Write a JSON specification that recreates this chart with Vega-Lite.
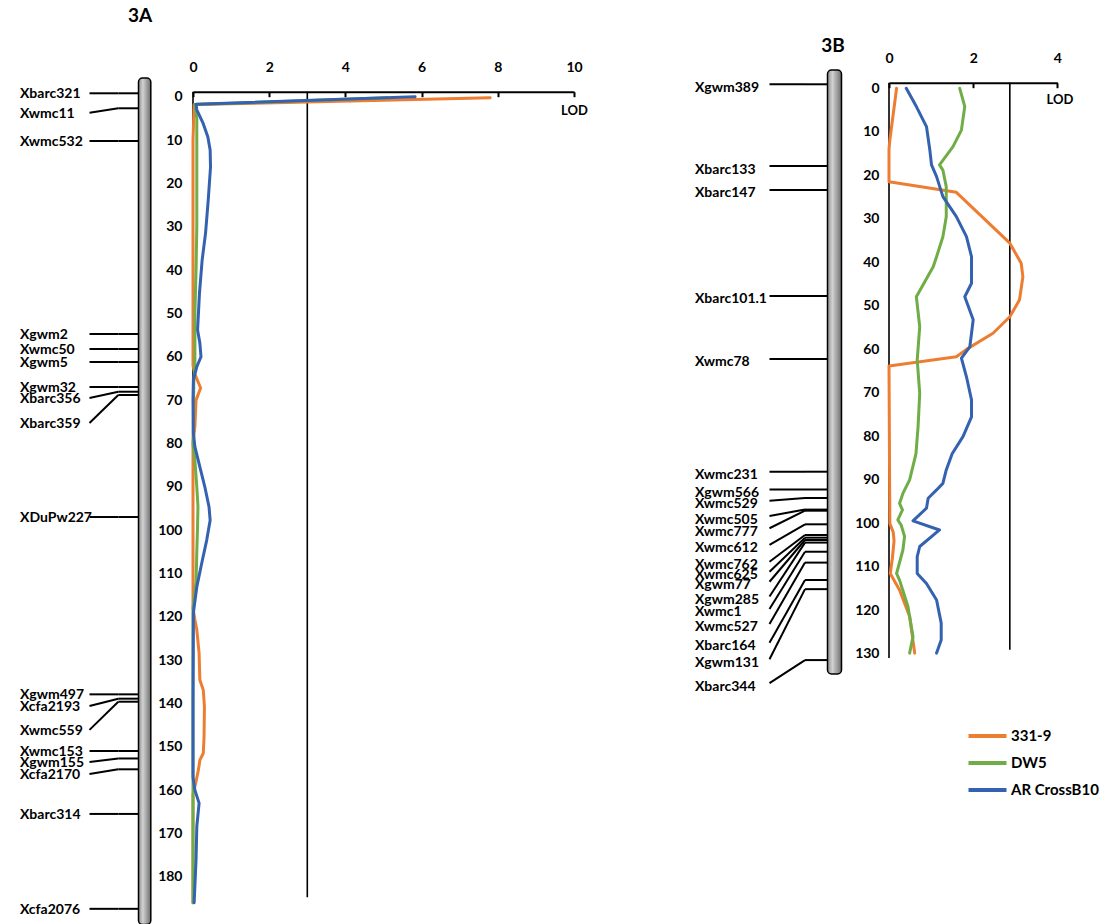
{
  "$schema": "https://vega.github.io/schema/vega-lite/v6.json",
  "padding": 0,
  "spacing": 0,
  "bounds": "flush",
  "config": {
    "view": {"stroke": null},
    "font": "Lato",
    "text": {"font": "Lato", "fontWeight": "bold", "color": "black"},
    "axis": {"labelFont": "Lato", "labelFontWeight": "bold", "labelColor": "black", "labelFontSize": 14, "titleFont": "Lato", "titleFontWeight": "bold", "titleColor": "black", "grid": false, "domainColor": "black", "tickColor": "black"},
    "legend": {"labelFont": "Lato", "labelColor": "black"}
  },
  "datasets": {
    "markersA": [
      {"marker": "Xbarc321", "pos": -0.81, "lab": -0.81},
      {"marker": "Xwmc11", "pos": 2.65, "lab": 3.67},
      {"marker": "Xwmc532", "pos": 10.2, "lab": 10.2},
      {"marker": "Xgwm2", "pos": 54.74, "lab": 54.74},
      {"marker": "Xwmc50", "pos": 58.2, "lab": 58.2},
      {"marker": "Xgwm5", "pos": 61.2, "lab": 61.2},
      {"marker": "Xgwm32", "pos": 66.97, "lab": 66.97},
      {"marker": "Xbarc356", "pos": 68.06, "lab": 69.51},
      {"marker": "Xbarc359", "pos": 68.82, "lab": 75.28},
      {"marker": "XDuPw227", "pos": 96.98, "lab": 96.98},
      {"marker": "Xgwm497", "pos": 137.9, "lab": 137.9},
      {"marker": "Xcfa2193", "pos": 138.9, "lab": 140.6},
      {"marker": "Xwmc559", "pos": 139.6, "lab": 146.1},
      {"marker": "Xwmc153", "pos": 150.97, "lab": 150.97},
      {"marker": "Xgwm155", "pos": 152.7, "lab": 153.5},
      {"marker": "Xcfa2170", "pos": 155.2, "lab": 156.3},
      {"marker": "Xbarc314", "pos": 165.5, "lab": 165.5},
      {"marker": "Xcfa2076", "pos": 187.4, "lab": 187.4}
    ],
    "markersB": [
      {"marker": "Xgwm389", "pos": -0.92, "lab": -0.92},
      {"marker": "Xbarc133", "pos": 17.86, "lab": 17.86},
      {"marker": "Xbarc147", "pos": 23.37, "lab": 23.37},
      {"marker": "Xbarc101.1", "pos": 47.73, "lab": 47.73},
      {"marker": "Xwmc78", "pos": 62.21, "lab": 62.21},
      {"marker": "Xwmc231", "pos": 88.11, "lab": 88.11},
      {"marker": "Xgwm566", "pos": 92.2, "lab": 92.2},
      {"marker": "Xwmc529", "pos": 94.15, "lab": 94.78},
      {"marker": "Xwmc505", "pos": 96.82, "lab": 98.29},
      {"marker": "Xwmc777", "pos": 97.07, "lab": 101.1},
      {"marker": "Xwmc612", "pos": 100.2, "lab": 104.95},
      {"marker": "Xwmc762", "pos": 102.65, "lab": 108.8},
      {"marker": "Xwmc625", "pos": 103.27, "lab": 111.1},
      {"marker": "Xgwm77", "pos": 103.8, "lab": 113.4},
      {"marker": "Xgwm285", "pos": 104.4, "lab": 116.8},
      {"marker": "Xwmc1", "pos": 106.5, "lab": 119.66},
      {"marker": "Xwmc527", "pos": 109.0, "lab": 123.1},
      {"marker": "Xbarc164", "pos": 113.0, "lab": 127.4},
      {"marker": "Xgwm131", "pos": 115.1, "lab": 131.2},
      {"marker": "Xbarc344", "pos": 131.4, "lab": 136.7}
    ],
    "chromA": [{"start": -4.34, "end": 191}],
    "chromB": [{"start": -4.2, "end": 134.6}],
    "refA": [{"LOD": 0, "from": -1.18, "to": 186}, {"LOD": 3, "from": -1.18, "to": 184.7}],
    "refB": [{"LOD": 0, "from": -1.3, "to": 130.9}, {"LOD": 2.87, "from": -1.3, "to": 129}],
    "lodA": [
      {"series": "331-9", "cM": 0.2, "LOD": 7.8},
      {"series": "331-9", "cM": 1.8, "LOD": 0.03},
      {"series": "331-9", "cM": 10, "LOD": 0},
      {"series": "331-9", "cM": 62, "LOD": 0},
      {"series": "331-9", "cM": 64, "LOD": 0.05},
      {"series": "331-9", "cM": 67.2, "LOD": 0.2},
      {"series": "331-9", "cM": 70, "LOD": 0.08},
      {"series": "331-9", "cM": 76, "LOD": 0.05},
      {"series": "331-9", "cM": 80, "LOD": 0},
      {"series": "331-9", "cM": 118, "LOD": 0},
      {"series": "331-9", "cM": 120.7, "LOD": 0.05},
      {"series": "331-9", "cM": 123, "LOD": 0.1},
      {"series": "331-9", "cM": 128.4, "LOD": 0.16},
      {"series": "331-9", "cM": 134.6, "LOD": 0.18},
      {"series": "331-9", "cM": 136.9, "LOD": 0.27},
      {"series": "331-9", "cM": 140.8, "LOD": 0.3},
      {"series": "331-9", "cM": 147.7, "LOD": 0.29},
      {"series": "331-9", "cM": 151.5, "LOD": 0.27},
      {"series": "331-9", "cM": 153.1, "LOD": 0.18},
      {"series": "331-9", "cM": 155.4, "LOD": 0.14},
      {"series": "331-9", "cM": 158, "LOD": 0.08},
      {"series": "331-9", "cM": 161, "LOD": 0},
      {"series": "331-9", "cM": 186, "LOD": 0},
      {"series": "DW5", "cM": 0.2, "LOD": 5.1},
      {"series": "DW5", "cM": 1.8, "LOD": 0.05},
      {"series": "DW5", "cM": 5, "LOD": 0.1},
      {"series": "DW5", "cM": 30, "LOD": 0.1},
      {"series": "DW5", "cM": 40, "LOD": 0.08},
      {"series": "DW5", "cM": 50, "LOD": 0.05},
      {"series": "DW5", "cM": 62, "LOD": 0.05},
      {"series": "DW5", "cM": 66, "LOD": 0.02},
      {"series": "DW5", "cM": 80, "LOD": 0},
      {"series": "DW5", "cM": 84, "LOD": 0.05},
      {"series": "DW5", "cM": 90, "LOD": 0.1},
      {"series": "DW5", "cM": 94.5, "LOD": 0.13},
      {"series": "DW5", "cM": 99, "LOD": 0.12},
      {"series": "DW5", "cM": 105, "LOD": 0.1},
      {"series": "DW5", "cM": 112, "LOD": 0.08},
      {"series": "DW5", "cM": 118, "LOD": 0},
      {"series": "DW5", "cM": 186, "LOD": 0},
      {"series": "AR CrossB10", "cM": 0, "LOD": 5.83},
      {"series": "AR CrossB10", "cM": 1.7, "LOD": 0.08},
      {"series": "AR CrossB10", "cM": 3, "LOD": 0.1},
      {"series": "AR CrossB10", "cM": 6, "LOD": 0.26},
      {"series": "AR CrossB10", "cM": 9.3, "LOD": 0.39},
      {"series": "AR CrossB10", "cM": 12.3, "LOD": 0.45},
      {"series": "AR CrossB10", "cM": 16.2, "LOD": 0.46},
      {"series": "AR CrossB10", "cM": 23.8, "LOD": 0.4},
      {"series": "AR CrossB10", "cM": 31.4, "LOD": 0.33},
      {"series": "AR CrossB10", "cM": 37.7, "LOD": 0.24},
      {"series": "AR CrossB10", "cM": 45.3, "LOD": 0.17},
      {"series": "AR CrossB10", "cM": 53.8, "LOD": 0.12},
      {"series": "AR CrossB10", "cM": 56.8, "LOD": 0.18},
      {"series": "AR CrossB10", "cM": 60, "LOD": 0.21},
      {"series": "AR CrossB10", "cM": 62.3, "LOD": 0.1},
      {"series": "AR CrossB10", "cM": 65.3, "LOD": 0.01},
      {"series": "AR CrossB10", "cM": 70, "LOD": 0},
      {"series": "AR CrossB10", "cM": 77.6, "LOD": 0.01},
      {"series": "AR CrossB10", "cM": 80.8, "LOD": 0.05},
      {"series": "AR CrossB10", "cM": 85.4, "LOD": 0.18},
      {"series": "AR CrossB10", "cM": 90, "LOD": 0.31},
      {"series": "AR CrossB10", "cM": 94.6, "LOD": 0.42},
      {"series": "AR CrossB10", "cM": 97.7, "LOD": 0.45},
      {"series": "AR CrossB10", "cM": 102.3, "LOD": 0.36},
      {"series": "AR CrossB10", "cM": 107.6, "LOD": 0.23},
      {"series": "AR CrossB10", "cM": 113.1, "LOD": 0.1},
      {"series": "AR CrossB10", "cM": 119.1, "LOD": 0.01},
      {"series": "AR CrossB10", "cM": 140, "LOD": 0},
      {"series": "AR CrossB10", "cM": 157, "LOD": 0},
      {"series": "AR CrossB10", "cM": 160, "LOD": 0.05},
      {"series": "AR CrossB10", "cM": 163, "LOD": 0.16},
      {"series": "AR CrossB10", "cM": 168.4, "LOD": 0.1},
      {"series": "AR CrossB10", "cM": 176, "LOD": 0.08},
      {"series": "AR CrossB10", "cM": 186, "LOD": 0.03}
    ],
    "lodB": [
      {"series": "331-9", "cM": 0, "LOD": 0.18},
      {"series": "331-9", "cM": 11.9, "LOD": 0.02},
      {"series": "331-9", "cM": 14, "LOD": 0},
      {"series": "331-9", "cM": 21.5, "LOD": 0},
      {"series": "331-9", "cM": 23.9, "LOD": 1.6},
      {"series": "331-9", "cM": 35.6, "LOD": 2.87},
      {"series": "331-9", "cM": 40.2, "LOD": 3.14},
      {"series": "331-9", "cM": 43.3, "LOD": 3.18},
      {"series": "331-9", "cM": 48.6, "LOD": 3.1},
      {"series": "331-9", "cM": 52.5, "LOD": 2.87},
      {"series": "331-9", "cM": 56.3, "LOD": 2.47},
      {"series": "331-9", "cM": 60, "LOD": 1.84},
      {"series": "331-9", "cM": 61.7, "LOD": 1.6},
      {"series": "331-9", "cM": 63.8, "LOD": 0},
      {"series": "331-9", "cM": 100, "LOD": 0.02},
      {"series": "331-9", "cM": 102, "LOD": 0.1},
      {"series": "331-9", "cM": 104, "LOD": 0.12},
      {"series": "331-9", "cM": 108, "LOD": 0.08},
      {"series": "331-9", "cM": 111.5, "LOD": 0.03},
      {"series": "331-9", "cM": 115.3, "LOD": 0.25},
      {"series": "331-9", "cM": 121.4, "LOD": 0.49},
      {"series": "331-9", "cM": 129.8, "LOD": 0.61},
      {"series": "DW5", "cM": 0, "LOD": 1.68},
      {"series": "DW5", "cM": 4.2, "LOD": 1.8},
      {"series": "DW5", "cM": 9.6, "LOD": 1.72},
      {"series": "DW5", "cM": 13.4, "LOD": 1.52},
      {"series": "DW5", "cM": 17.6, "LOD": 1.2},
      {"series": "DW5", "cM": 18.8, "LOD": 1.28},
      {"series": "DW5", "cM": 22.6, "LOD": 1.36},
      {"series": "DW5", "cM": 29.5, "LOD": 1.36},
      {"series": "DW5", "cM": 34.1, "LOD": 1.28},
      {"series": "DW5", "cM": 38.7, "LOD": 1.13},
      {"series": "DW5", "cM": 41, "LOD": 1.05},
      {"series": "DW5", "cM": 47.9, "LOD": 0.65},
      {"series": "DW5", "cM": 54.8, "LOD": 0.73},
      {"series": "DW5", "cM": 62.4, "LOD": 0.67},
      {"series": "DW5", "cM": 70.1, "LOD": 0.73},
      {"series": "DW5", "cM": 77.8, "LOD": 0.69},
      {"series": "DW5", "cM": 84, "LOD": 0.64},
      {"series": "DW5", "cM": 90, "LOD": 0.49},
      {"series": "DW5", "cM": 93.1, "LOD": 0.33},
      {"series": "DW5", "cM": 95.4, "LOD": 0.25},
      {"series": "DW5", "cM": 96.9, "LOD": 0.32},
      {"series": "DW5", "cM": 99.2, "LOD": 0.21},
      {"series": "DW5", "cM": 100.4, "LOD": 0.29},
      {"series": "DW5", "cM": 103, "LOD": 0.37},
      {"series": "DW5", "cM": 106.1, "LOD": 0.33},
      {"series": "DW5", "cM": 111.5, "LOD": 0.18},
      {"series": "DW5", "cM": 113, "LOD": 0.25},
      {"series": "DW5", "cM": 119.1, "LOD": 0.45},
      {"series": "DW5", "cM": 126, "LOD": 0.57},
      {"series": "DW5", "cM": 129.8, "LOD": 0.49},
      {"series": "AR CrossB10", "cM": 0, "LOD": 0.41},
      {"series": "AR CrossB10", "cM": 4.2, "LOD": 0.65},
      {"series": "AR CrossB10", "cM": 8.8, "LOD": 0.89},
      {"series": "AR CrossB10", "cM": 14.2, "LOD": 0.97},
      {"series": "AR CrossB10", "cM": 17.6, "LOD": 1.01},
      {"series": "AR CrossB10", "cM": 20.3, "LOD": 1.13},
      {"series": "AR CrossB10", "cM": 24.9, "LOD": 1.28},
      {"series": "AR CrossB10", "cM": 29.5, "LOD": 1.6},
      {"series": "AR CrossB10", "cM": 34.1, "LOD": 1.84},
      {"series": "AR CrossB10", "cM": 38.7, "LOD": 1.96},
      {"series": "AR CrossB10", "cM": 44.8, "LOD": 1.96},
      {"series": "AR CrossB10", "cM": 47.9, "LOD": 1.8},
      {"series": "AR CrossB10", "cM": 53.2, "LOD": 2.0},
      {"series": "AR CrossB10", "cM": 59.4, "LOD": 1.92},
      {"series": "AR CrossB10", "cM": 62, "LOD": 1.72},
      {"series": "AR CrossB10", "cM": 66.3, "LOD": 1.84},
      {"series": "AR CrossB10", "cM": 71.6, "LOD": 1.96},
      {"series": "AR CrossB10", "cM": 75.5, "LOD": 1.96},
      {"series": "AR CrossB10", "cM": 80, "LOD": 1.76},
      {"series": "AR CrossB10", "cM": 84, "LOD": 1.5},
      {"series": "AR CrossB10", "cM": 87.7, "LOD": 1.36},
      {"series": "AR CrossB10", "cM": 90.8, "LOD": 1.28},
      {"series": "AR CrossB10", "cM": 92.3, "LOD": 1.13},
      {"series": "AR CrossB10", "cM": 94.2, "LOD": 0.93},
      {"series": "AR CrossB10", "cM": 96.5, "LOD": 0.89},
      {"series": "AR CrossB10", "cM": 99.4, "LOD": 0.57},
      {"series": "AR CrossB10", "cM": 101.5, "LOD": 1.2},
      {"series": "AR CrossB10", "cM": 105.3, "LOD": 0.73},
      {"series": "AR CrossB10", "cM": 107.6, "LOD": 0.67},
      {"series": "AR CrossB10", "cM": 111.5, "LOD": 0.67},
      {"series": "AR CrossB10", "cM": 113.8, "LOD": 0.89},
      {"series": "AR CrossB10", "cM": 117.6, "LOD": 1.13},
      {"series": "AR CrossB10", "cM": 122.9, "LOD": 1.24},
      {"series": "AR CrossB10", "cM": 126.8, "LOD": 1.24},
      {"series": "AR CrossB10", "cM": 129.8, "LOD": 1.13}
    ]
  },
  "hconcat": [
    {
      "width": 193,
      "height": 924,
      "layer": [
        {
          "data": {"name": "markersA"},
          "mark": {"type": "rule", "stroke": "black", "strokeWidth": 2},
          "encoding": {
            "x": {"datum": 89.5, "type": "quantitative", "scale": {"domain": [0, 193], "nice": false, "zero": false}, "axis": null},
            "x2": {"datum": 118.3},
            "y": {"field": "lab", "type": "quantitative", "scale": {"domain": [-22.34, 190.9], "reverse": true, "nice": false, "zero": false}, "axis": null},
            "y2": {"field": "pos"}
          }
        },
        {
          "data": {"name": "markersA"},
          "mark": {"type": "rule", "stroke": "black", "strokeWidth": 2},
          "encoding": {
            "x": {"datum": 118.3, "type": "quantitative"},
            "x2": {"datum": 139},
            "y": {"field": "pos", "type": "quantitative"}
          }
        },
        {
          "data": {"name": "chromA"},
          "mark": {"type": "rect", "cornerRadius": 4, "stroke": "black", "strokeWidth": 1.5,
            "fill": {"gradient": "linear", "x1": 0, "y1": 0, "x2": 1, "y2": 0, "stops": [{"offset": 0, "color": "#8c8c8c"}, {"offset": 0.35, "color": "#d2d2d2"}, {"offset": 1, "color": "#6e6e6e"}]}},
          "encoding": {
            "x": {"datum": 138.5, "type": "quantitative"},
            "x2": {"datum": 150.8},
            "y": {"field": "start", "type": "quantitative"},
            "y2": {"field": "end"}
          }
        },
        {
          "data": {"name": "markersA"},
          "mark": {"type": "text", "align": "left", "baseline": "middle", "dy": 1, "fontSize": 14, "fontWeight": "bold"},
          "encoding": {
            "x": {"datum": 20, "type": "quantitative"},
            "y": {"field": "lab", "type": "quantitative"},
            "text": {"field": "marker"}
          }
        },
        {
          "data": {"values": [{"panel": "3A"}]},
          "mark": {"type": "text", "align": "center", "baseline": "middle", "dy": 1, "fontSize": 19, "fontWeight": "bold"},
          "encoding": {
            "x": {"datum": 140, "type": "quantitative"},
            "y": {"datum": -18.88, "type": "quantitative"},
            "text": {"field": "panel"}
          }
        }
      ]
    },
    {
      "width": 381,
      "height": 924,
      "layer": [
        {
          "data": {"name": "refA"},
          "mark": {"type": "rule", "stroke": "black", "strokeWidth": 1.6},
          "encoding": {
            "x": {"field": "LOD", "type": "quantitative", "scale": {"domain": [0, 10], "nice": false, "zero": false},
              "axis": {"orient": "top", "values": [0, 2, 4, 6, 8, 10], "offset": -91.7, "domainWidth": 2, "tickWidth": 2, "tickSize": -5, "labelPadding": 22, "labelFlush": false, "labelAngle": 0, "title": "LOD", "titleX": 381, "titleY": 18.3, "titleAlign": "center", "titleBaseline": "middle", "titleFontSize": 13, "titleAngle": 0}},
            "y": {"field": "from", "type": "quantitative", "scale": {"domain": [-22.34, 190.9], "reverse": true, "nice": false, "zero": false},
              "axis": {"orient": "left", "values": [0, 10, 20, 30, 40, 50, 60, 70, 80, 90, 100, 110, 120, 130, 140, 150, 160, 170, 180], "domain": false, "ticks": false, "tickSize": 0, "labelPadding": 11, "title": null}},
            "y2": {"field": "to"}
          }
        },
        {
          "data": {"name": "lodA"},
          "mark": {"type": "line", "strokeWidth": 3, "strokeJoin": "round", "strokeCap": "round"},
          "encoding": {
            "x": {"field": "LOD", "type": "quantitative"},
            "y": {"field": "cM", "type": "quantitative"},
            "order": {"field": "cM", "type": "quantitative"},
            "color": {"field": "series", "type": "nominal",
              "scale": {"domain": ["331-9", "DW5", "AR CrossB10"], "range": ["#ED7D31", "#70AD47", "#3462B0"]},
              "legend": {"orient": "none", "legendX": 980, "legendY": 728.5, "title": null, "symbolType": "M-4,0H4", "symbolSize": 90.25, "symbolStrokeWidth": 4, "labelFontSize": 15, "labelFontWeight": "bold", "labelOffset": 16, "rowPadding": 10, "padding": 0}}
          }
        }
      ]
    },
    {
      "width": 315,
      "height": 924,
      "layer": [
        {
          "data": {"name": "markersB"},
          "mark": {"type": "rule", "stroke": "black", "strokeWidth": 2},
          "encoding": {
            "x": {"datum": 195.5, "type": "quantitative", "scale": {"domain": [0, 315], "nice": false, "zero": false}, "axis": null},
            "x2": {"datum": 231},
            "y": {"field": "lab", "type": "quantitative", "scale": {"domain": [-20.29, 192.05], "reverse": true, "nice": false, "zero": false}, "axis": null},
            "y2": {"field": "pos"}
          }
        },
        {
          "data": {"name": "markersB"},
          "mark": {"type": "rule", "stroke": "black", "strokeWidth": 2},
          "encoding": {
            "x": {"datum": 231, "type": "quantitative"},
            "x2": {"datum": 254},
            "y": {"field": "pos", "type": "quantitative"}
          }
        },
        {
          "data": {"name": "chromB"},
          "mark": {"type": "rect", "cornerRadius": 4, "stroke": "black", "strokeWidth": 1.5,
            "fill": {"gradient": "linear", "x1": 0, "y1": 0, "x2": 1, "y2": 0, "stops": [{"offset": 0, "color": "#8c8c8c"}, {"offset": 0.35, "color": "#d2d2d2"}, {"offset": 1, "color": "#6e6e6e"}]}},
          "encoding": {
            "x": {"datum": 253.5, "type": "quantitative"},
            "x2": {"datum": 267.5},
            "y": {"field": "start", "type": "quantitative"},
            "y2": {"field": "end"}
          }
        },
        {
          "data": {"name": "markersB"},
          "mark": {"type": "text", "align": "left", "baseline": "middle", "dy": 3.5, "fontSize": 14, "fontWeight": "bold"},
          "encoding": {
            "x": {"datum": 121, "type": "quantitative"},
            "y": {"field": "lab", "type": "quantitative"},
            "text": {"field": "marker"}
          }
        },
        {
          "data": {"values": [{"panel": "3B"}]},
          "mark": {"type": "text", "align": "center", "baseline": "middle", "dy": 1, "fontSize": 19, "fontWeight": "bold"},
          "encoding": {
            "x": {"datum": 259, "type": "quantitative"},
            "y": {"datum": -9.95, "type": "quantitative"},
            "text": {"field": "panel"}
          }
        }
      ]
    },
    {
      "width": 168.4,
      "height": 924,
      "layer": [
        {
          "data": {"name": "refB"},
          "mark": {"type": "rule", "stroke": "black", "strokeWidth": 1.6},
          "encoding": {
            "x": {"field": "LOD", "type": "quantitative", "scale": {"domain": [0, 4], "nice": false, "zero": false},
              "axis": {"orient": "top", "values": [0, 2, 4], "offset": -82.7, "domainWidth": 2, "tickWidth": 2, "tickSize": -5, "labelPadding": 22, "labelFlush": false, "labelAngle": 0, "title": "LOD", "titleX": 170.4, "titleY": 16.3, "titleAlign": "center", "titleBaseline": "middle", "titleFontSize": 13, "titleAngle": 0}},
            "y": {"field": "from", "type": "quantitative", "scale": {"domain": [-20.29, 192.05], "reverse": true, "nice": false, "zero": false},
              "axis": {"orient": "left", "values": [0, 10, 20, 30, 40, 50, 60, 70, 80, 90, 100, 110, 120, 130], "domain": false, "ticks": false, "tickSize": 0, "labelPadding": 10, "title": null}},
            "y2": {"field": "to"}
          }
        },
        {
          "data": {"name": "lodB"},
          "mark": {"type": "line", "strokeWidth": 3, "strokeJoin": "round", "strokeCap": "round"},
          "encoding": {
            "x": {"field": "LOD", "type": "quantitative"},
            "y": {"field": "cM", "type": "quantitative"},
            "order": {"field": "cM", "type": "quantitative"},
            "color": {"field": "series", "type": "nominal",
              "scale": {"domain": ["331-9", "DW5", "AR CrossB10"], "range": ["#ED7D31", "#70AD47", "#3462B0"]},
              "legend": {"orient": "none", "legendX": 980, "legendY": 728.5, "title": null, "symbolType": "M-4,0H4", "symbolSize": 90.25, "symbolStrokeWidth": 4, "labelFontSize": 15, "labelFontWeight": "bold", "labelOffset": 16, "rowPadding": 10, "padding": 0}}
          }
        }
      ]
    }
  ]
}
